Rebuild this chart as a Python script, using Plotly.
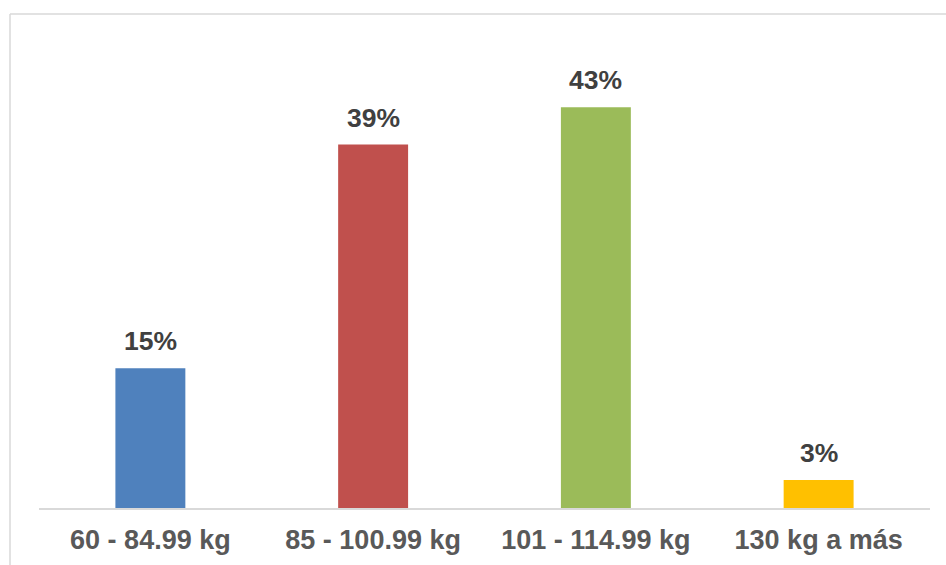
import plotly.graph_objects as go

categories = ["60 - 84.99 kg", "85 - 100.99 kg", "101 - 114.99 kg", "130 kg a más"]
percentages = [15, 39, 43, 3]
bar_colors = ["#4F81BD", "#C0504D", "#9BBB59", "#FFC000"]
value_labels = [f"{v}%" for v in percentages]

W, H = 946, 565
ML, MR, MT, MB = 39, 16, 42, 57
plot_w = W - ML - MR
plot_h = H - MT - MB

fig = go.Figure(
    go.Bar(
        x=categories,
        y=percentages,
        marker=dict(color=bar_colors, line=dict(width=0)),
        width=0.314,
        hoverinfo="skip",
    )
)

# value labels above each bar
for cat, val, lab in zip(categories, percentages, value_labels):
    fig.add_annotation(
        x=cat, y=val, text=f"<b>{lab}</b>", showarrow=False,
        yanchor="bottom", yshift=10,
        font=dict(family="Liberation Sans, Arial", size=26.5, color="#404040"),
    )

# chart-area frame (top and left edges)
def px_to_paper_x(px):
    return (px - ML) / plot_w

def px_to_paper_y(py):
    return (H - MB - py) / plot_h

frame = dict(color="#D9D9D9", width=1.5)
fig.add_shape(type="line", xref="paper", yref="paper",
              x0=px_to_paper_x(10), x1=px_to_paper_x(W + 5),
              y0=px_to_paper_y(14), y1=px_to_paper_y(14), line=frame)
fig.add_shape(type="line", xref="paper", yref="paper",
              x0=px_to_paper_x(10), x1=px_to_paper_x(10),
              y0=px_to_paper_y(14), y1=px_to_paper_y(H + 5), line=frame)

fig.update_layout(
    width=W, height=H,
    margin=dict(l=ML, r=MR, t=MT, b=MB, autoexpand=False),
    paper_bgcolor="white", plot_bgcolor="white",
    showlegend=False,
    xaxis=dict(
        showline=True, linecolor="#D9D9D9", linewidth=1.5,
        ticks="", ticklabelstandoff=7, automargin=False,
        tickfont=dict(family="Liberation Sans, Arial", size=27, color="#595959"),
        tickprefix="<b>", ticksuffix="</b>",
        showgrid=False, zeroline=False,
    ),
    yaxis=dict(
        range=[0, 50], visible=False, showgrid=False, zeroline=False,
        automargin=False,
    ),
)

fig.write_html("out.html")
